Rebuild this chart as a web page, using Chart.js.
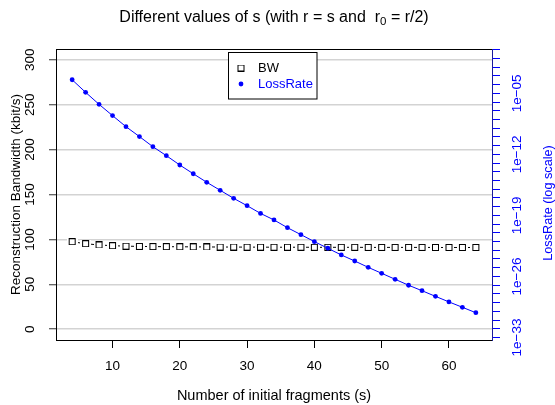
<!DOCTYPE html>
<html>
<head>
<meta charset="utf-8">
<script src="https://cdn.jsdelivr.net/npm/chart.js@4.4.1/dist/chart.umd.min.js"></script>
<style>
html, body { margin: 0; padding: 0; background: #fff; }
#wrap { width: 555px; height: 405px; }
</style>
</head>
<body>
<div id="wrap"><canvas id="grafico" width="555" height="405"></canvas></div>
<script>
// valores
const fragments = [4, 6, 8, 10, 12, 14, 16, 18, 20, 22, 24, 26, 28, 30, 32, 34,
    36, 38, 40, 42, 44, 46, 48, 50, 52, 54, 56, 58, 60, 62, 64];
const bandwidth = [97.4, 95.2, 93.8, 93.0, 92.5, 92.2, 92.0, 91.9, 91.8, 91.7, 91.6,
    91.5, 91.5, 91.4, 91.4, 91.3, 91.3, 91.3, 91.2, 91.2, 91.2, 91.2, 91.1, 91.1,
    91.1, 91.1, 91.1, 91.0, 91.0, 91.0, 91.0];
const lossRate = [3.6e-4, 1.3e-5, 5.5e-7, 2.8e-8, 1.5e-9, 1.1e-10, 7.6e-12, 7.1e-13,
    6.0e-14, 6.0e-15, 6.3e-16, 7.6e-17, 9.1e-18, 1.3e-18, 1.7e-19, 3.0e-20, 3.9e-21,
    6.2e-22, 9.8e-23, 1.7e-23, 2.9e-24, 5.9e-25, 1.1e-25, 2.3e-26, 4.7e-27, 9.8e-28,
    2.3e-28, 5.2e-29, 1.2e-29, 2.9e-30, 6.9e-31];
const bwTicks = [0, 50, 100, 150, 200, 250, 300];
const fragmentTicks = [10, 20, 30, 40, 50, 60];
const lossLabelExps = [-5, -12, -19, -26, -33];

const fonte = "'Liberation Sans', Arial, sans-serif";
const azul = '#0000ff';

// decadas do eixo direito (uma marca por potencia de 10)
const lossDecades = [];
for (let e = -33; e <= 0; e++) lossDecades.push(e);

const formatExp = (e) => '1e' + (e < 0 ? '\u2212' : '+') + String(Math.abs(e)).padStart(2, '0');

// simbolo do BW: quadrado vazado com folga branca (tipo "b" do R)
const simboloBW = document.createElement('canvas');
simboloBW.width = 11;
simboloBW.height = 7;
const sctx = simboloBW.getContext('2d');
sctx.fillStyle = '#fff';
sctx.fillRect(0, 0, 11, 7);
sctx.strokeStyle = '#000';
sctx.lineWidth = 1;
sctx.strokeRect(2.5, 0.5, 6, 6);

const decoracao = {
    id: 'decoracao',
    afterDraw(chart) {
        const { ctx, chartArea } = chart;
        ctx.save();

        // linha de cima da caixa
        ctx.strokeStyle = '#000';
        ctx.lineWidth = 1;
        ctx.beginPath();
        ctx.moveTo(chartArea.left, Math.round(chartArea.top) + 0.5);
        ctx.lineTo(chartArea.right, Math.round(chartArea.top) + 0.5);
        ctx.stroke();

        // titulo com subscrito
        const partes = [
            { t: 'Different values of s (with r = s and  r', size: 16, dy: 0 },
            { t: '0', size: 11.5, dy: 4 },
            { t: ' = r/2)', size: 16, dy: 0 }
        ];
        let total = 0;
        partes.forEach(p => {
            ctx.font = p.size + 'px ' + fonte;
            p.w = ctx.measureText(p.t).width;
            total += p.w;
        });
        let x = (chartArea.left + chartArea.right) / 2 - total / 2;
        ctx.fillStyle = '#000';
        ctx.textBaseline = 'middle';
        ctx.textAlign = 'left';
        partes.forEach(p => {
            ctx.font = p.size + 'px ' + fonte;
            ctx.fillText(p.t, x, 18 + p.dy);
            x += p.w;
        });

        // titulo do eixo direito
        ctx.save();
        ctx.translate(548, 203);
        ctx.rotate(-Math.PI / 2);
        ctx.font = '12.7px ' + fonte;
        ctx.fillStyle = azul;
        ctx.textAlign = 'center';
        ctx.fillText('LossRate (log scale)', 0, 0);
        ctx.restore();

        // legenda
        const bx = 228.5, by = 52.5, bw = 88.5, bh = 46.5;
        ctx.fillStyle = '#fff';
        ctx.fillRect(bx, by, bw, bh);
        ctx.strokeStyle = '#000';
        ctx.strokeRect(bx, by, bw, bh);
        ctx.font = '13px ' + fonte;
        ctx.textBaseline = 'middle';
        const [dsBW, dsLoss] = chart.data.datasets;
        ctx.drawImage(simboloBW, 241 - 5.5, 68 - 3.5);
        ctx.fillStyle = '#000';
        ctx.fillText(dsBW.label, 258, 68);
        ctx.fillStyle = dsLoss.pointBackgroundColor;
        ctx.beginPath();
        ctx.arc(241, 84, dsLoss.pointRadius, 0, Math.PI * 2);
        ctx.fill();
        ctx.fillText(dsLoss.label, 258, 84.5);

        ctx.restore();
    }
};

const ctx = document.getElementById('grafico');

const data = {
    datasets: [{
        label: 'BW',
        data: fragments.map((x, i) => ({ x: x, y: bandwidth[i] })),
        yAxisID: 'y',
        borderColor: '#000',
        borderWidth: 1,
        pointStyle: simboloBW,
        pointRadius: 4,
        tension: 0,
        order: 1
    }, {
        label: 'LossRate',
        data: fragments.map((x, i) => ({ x: x, y: lossRate[i] })),
        yAxisID: 'y1',
        borderColor: azul,
        backgroundColor: azul,
        pointBackgroundColor: azul,
        pointBorderColor: azul,
        pointRadius: 2.4,
        pointBorderWidth: 0,
        borderWidth: 1,
        tension: 0,
        order: 0
    }]
};

const config = {
    type: 'line',
    data: data,
    options: {
        responsive: false,
        animation: false,
        devicePixelRatio: 1,
        layout: { padding: { top: 49, left: 0, right: 0, bottom: 0 } },
        scales: {
            x: {
                type: 'linear',
                min: 1.6,
                max: 66.4,
                bounds: 'data',
                afterBuildTicks: (s) => { s.ticks = fragmentTicks.map(v => ({ value: v })); },
                afterFit: (s) => { s.height = 65; },
                grid: { drawOnChartArea: false, tickLength: 8, tickColor: '#000', tickWidth: 1 },
                border: { display: true, color: '#000', width: 1 },
                ticks: {
                    color: '#000',
                    autoSkip: false,
                    maxRotation: 0,
                    padding: 10,
                    font: { family: fonte, size: 13.5 }
                },
                title: {
                    display: true,
                    text: 'Number of initial fragments (s)',
                    color: '#000',
                    font: { family: fonte, size: 14.5 },
                    padding: { top: 0, bottom: 0 }
                }
            },
            y: {
                type: 'linear',
                position: 'left',
                min: -12,
                max: 312,
                bounds: 'data',
                afterBuildTicks: (s) => { s.ticks = bwTicks.map(v => ({ value: v })); },
                afterFit: (s) => { s.width = 56; },
                grid: { color: '#d3d3d3', lineWidth: 1.5, tickColor: '#333', tickWidth: 1, tickLength: 7 },
                border: { display: true, color: '#000', width: 1 },
                ticks: {
                    color: '#000',
                    autoSkip: false,
                    minRotation: 90,
                    maxRotation: 90,
                    crossAlign: 'center',
                    padding: 7.75,
                    font: { family: fonte, size: 13.5 }
                },
                title: {
                    display: true,
                    text: 'Reconstruction Bandwidth (kbit/s)',
                    color: '#000',
                    font: { family: fonte, size: 13.5 },
                    padding: { top: 8, bottom: 0 }
                }
            },
            y1: {
                type: 'logarithmic',
                position: 'right',
                min: Math.pow(10, -33.29),
                max: Math.pow(10, 0.085),
                bounds: 'data',
                afterBuildTicks: (s) => { s.ticks = lossDecades.map(e => ({ value: Math.pow(10, e) })); },
                afterFit: (s) => { s.width = 63; },
                grid: { drawOnChartArea: false, tickColor: azul, tickWidth: 1, tickLength: 8 },
                border: { display: true, color: '#1c1c9c', width: 1 },
                ticks: {
                    color: azul,
                    autoSkip: false,
                    minRotation: 90,
                    maxRotation: 90,
                    crossAlign: 'center',
                    padding: -2,
                    font: { family: fonte, size: 13.5 },
                    callback: (v) => {
                        const e = Math.round(Math.log10(v));
                        return lossLabelExps.includes(e) ? formatExp(e) : '';
                    }
                }
            }
        },
        plugins: {
            legend: { display: false },
            tooltip: { enabled: false },
            title: { display: false }
        }
    },
    plugins: [decoracao]
};

new Chart(ctx, config);
</script>
</body>
</html>
